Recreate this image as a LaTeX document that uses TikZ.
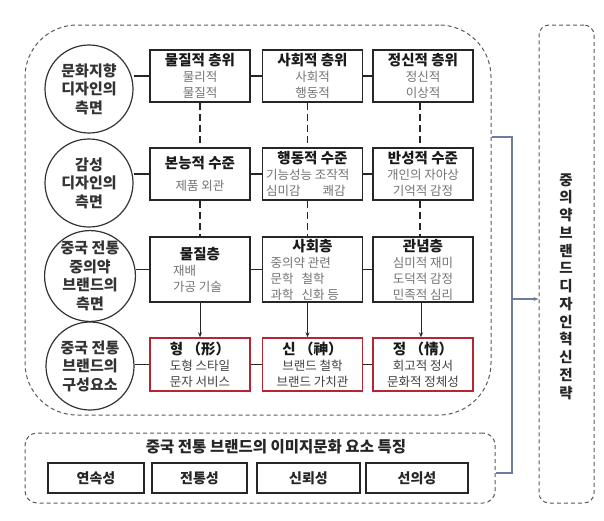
\documentclass[tikz,border=0pt]{standalone}
\usepackage{fontspec}
\setmainfont{Noto Sans CJK KR}
\usetikzlibrary{arrows.meta}
\definecolor{bracketc}{RGB}{110,125,155}
\definecolor{redb}{RGB}{185,35,50}
\newcommand\mytitle[1]{{\fontsize{14.5}{16}\selectfont\bfseries\color{black!90}#1}}
\begin{document}
\begin{tikzpicture}[x=1pt,y=-1pt,
  circ/.style={circle, draw=black!80, line width=1.2pt, minimum size=88pt, inner sep=0pt, align=center, font=\fontsize{15}{18.5}\selectfont\bfseries, text=black!80},
  box/.style={draw=black!85, line width=1.1pt, minimum width=100pt, align=center, inner sep=0pt, font=\fontsize{12.5}{16}\selectfont, text=black!55},
  redbox/.style={box, draw=redb, line width=1.4pt, text=black!75},
  conn/.style={draw=black!85, line width=1.1pt},
  dconn/.style={draw=black!85, line width=1.1pt, dash pattern=on 7pt off 4pt},
  aconn/.style={draw=black!85, line width=0.9pt, -{Stealth[length=5pt,width=4pt]}},
  region/.style={draw=black!65, line width=1pt, dash pattern=on 4pt off 3pt},
  smallbox/.style={draw=black!85, line width=1.1pt, minimum height=30pt, inner sep=0pt, font=\fontsize{14}{15}\selectfont\bfseries, text=black!85},
  bracket/.style={draw=bracketc, line width=1.2pt}
]
\useasboundingbox (0,0) rectangle (604,520);

% regions
\node[region, rounded corners=52pt, minimum width=466pt, minimum height=390pt] (outer) at (258,220) {};
\node[region, rounded corners=12pt, minimum width=470pt, minimum height=70pt] (imgbox) at (260,468) {};
\node[region, rounded corners=10pt, minimum width=55pt, minimum height=478pt] (strat) at (566.5,264) {};

% circles
\node[circ] (c1) at (89,89) {문화지향\\디자인의\\측면};
\node[circ] (c2) at (89,183) {감성\\디자인의\\측면};
\node[circ] (c3) at (90,276) {중국 전통\\중의약\\브랜드의\\측면};
\node[circ] (c4) at (90,366) {중국 전통\\브랜드의\\구성요소};

% row 1
\node[box, minimum height=52pt] (b11) at (200,76) {\mytitle{물질적 층위}\\물리적\\물질적};
\node[box, minimum height=52pt] (b12) at (312.5,76) {\mytitle{사회적 층위}\\사회적\\행동적};
\node[box, minimum height=52pt] (b13) at (423,76) {\mytitle{정신적 층위}\\정신적\\이상적};

% row 2
\node[box, minimum height=52pt] (b21) at (200,174) {\mytitle{본능적 수준}\\[6pt]제품 외관};
\node[box, minimum height=52pt] (b22) at (312.5,174) {\mytitle{행동적 수준}\\\makebox[93pt][l]{기능성능 조작적}\\\makebox[93pt][l]{심미감\hspace{22pt}쾌감}};
\node[box, minimum height=52pt] (b23) at (423,174) {\mytitle{반성적 수준}\\개인의 자아상\\기억적 감정};

% row 3
\node[box, minimum height=65pt] (b31) at (200,269.5) {\mytitle{물질층}\\\makebox[54pt][l]{재배}\\\makebox[54pt][l]{가공 기술}};
\node[box, minimum height=65pt] (b32) at (312.5,269.5) {\mytitle{사회층}\\\makebox[84pt][l]{중의약 관련}\\\makebox[84pt][l]{문학\hspace{8pt}철학}\\\makebox[84pt][l]{과학\hspace{8pt}신화 등}};
\node[box, minimum height=65pt] (b33) at (423,269.5) {\mytitle{관념층}\\심미적 재미\\도덕적 감정\\민족적 심리};

% row 4
\node[redbox, minimum height=53pt] (b41) at (200,364.5) {\mytitle{형 （形）}\\도형 스타일\\문자 서비스};
\node[redbox, minimum height=53pt] (b42) at (312.5,364.5) {\mytitle{신 （神）}\\브랜드 철학\\브랜드 가치관};
\node[redbox, minimum height=53pt] (b43) at (423,364.5) {\mytitle{정 （情）}\\회고적 정서\\문화적 정체성};

% circle connectors
\draw[conn] (b11.west) -- (c1.east |- b11.west);
\draw[conn] (b21.west) -- (c2.east |- b21.west);
\draw[conn] (b31.west) -- (c3.east |- b31.west);
\draw[conn] (b41.west) -- (c4.east |- b41.west);

% horizontal box connectors
\draw[conn] (b11) -- (b12); \draw[conn] (b12) -- (b13);
\draw[conn] (b21) -- (b22); \draw[conn] (b22) -- (b23);
\draw[conn] (b31) -- (b32); \draw[conn] (b32) -- (b33);
\draw[conn] (b41) -- (b42); \draw[conn] (b42) -- (b43);

% vertical dashed connectors
\draw[dconn] (b11.south) -- (b21.north);
\draw[dconn] ([xshift=-5pt]b12.south) -- ([xshift=-5pt]b22.north);
\draw[dconn] ([xshift=-3pt]b13.south) -- ([xshift=-3pt]b23.north);
\draw[dconn] (b21.south) -- (b31.north);
\draw[dconn] ([xshift=-5pt]b22.south) -- ([xshift=-5pt]b32.north);
\draw[dconn] ([xshift=-3pt]b23.south) -- ([xshift=-3pt]b33.north);

% arrows row 3 -> row 4
\draw[aconn] (b31.south) -- (b41.north);
\draw[aconn] ([xshift=-5pt]b32.south) -- ([xshift=-5pt]b42.north);
\draw[aconn] ([xshift=-2pt]b33.south) -- ([xshift=-2pt]b43.north);

% bottom region
\node[font=\fontsize{15.5}{17}\selectfont\bfseries, text=black!85] (imgtitle) at (276,447) {중국 전통 브랜드의 이미지문화 요소 특징};
\node[smallbox, minimum width=96pt] (p1) at (96,478) {연속성};
\node[smallbox, minimum width=95pt] (p2) at (199.5,478) {전통성};
\node[smallbox, minimum width=103pt] (p3) at (308.5,478) {신뢰성};
\node[smallbox, minimum width=102pt] (p4) at (417,478) {선의성};

% right strategy text
\node[align=center, font=\fontsize{14.5}{17.75}\selectfont\bfseries, text=black!85] (stext) at (566,286.5)
  {중\\의\\약\\브\\랜\\드\\디\\자\\인\\혁\\신\\전\\략};

% bracket
\coordinate (bt) at (512,137);
\coordinate (bb) at (512,473);
\coordinate (bm) at (512,299);
\draw[bracket] (outer.east |- bt) -- (bt) -- (bb) -- (imgbox.east |- bb);
\draw[bracket, -{Stealth[length=5pt,width=4pt]}] (bm) -- (strat.west |- bm);
\end{tikzpicture}
\end{document}
